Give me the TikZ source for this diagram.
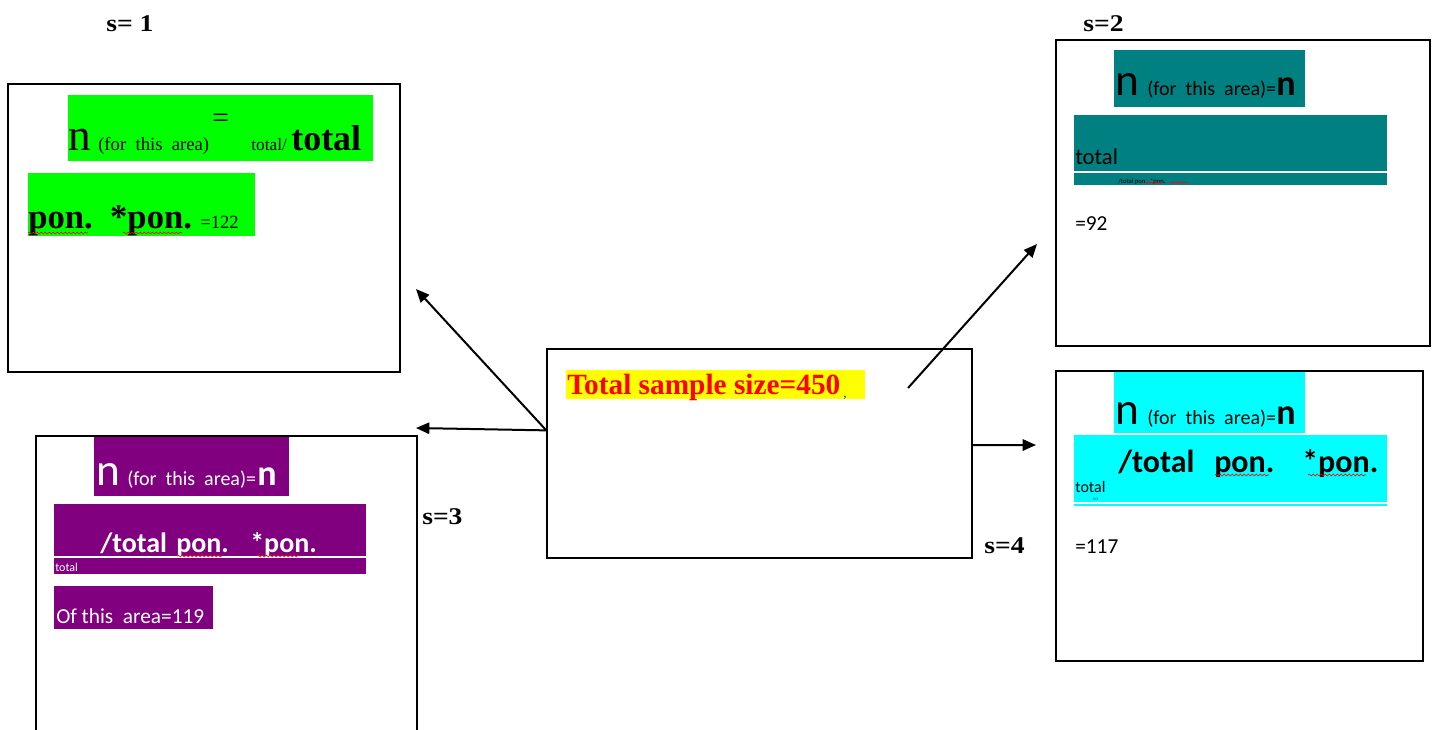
\documentclass[tikz,border=0pt]{standalone}
\usepackage{fontspec}
\setmainfont{Liberation Serif}
\newfontfamily\calib{Carlito}
\usetikzlibrary{arrows.meta,fit,calc,decorations.pathmorphing}
\newcommand\fs[1]{\fontsize{#1}{#1}\selectfont}
\definecolor{cgreen}{HTML}{00FF00}
\definecolor{cteal}{HTML}{008080}
\definecolor{ccyan}{HTML}{00FFFF}
\definecolor{cpurple}{HTML}{800080}
\definecolor{cyellow}{HTML}{FFFF00}
\definecolor{cred}{HTML}{FF0000}
\begin{document}
\begin{tikzpicture}[x=0.75pt,y=-0.75pt,
  box/.style={draw=black,line width=1pt,inner sep=0pt,fill=none},
  txt/.style={inner sep=0pt,anchor=base west},
  arr/.style={line width=1.5pt,-{Triangle[length=10pt,width=8.5pt]}},
  wavy/.style={cred,line width=0.5pt,decorate,decoration={snake,amplitude=0.7pt,segment length=3pt}},
  lab/.style={inner sep=0pt,anchor=base west,font=\bfseries\fs{18}}]
\useasboundingbox (0,0) rectangle (1433,729);

% ---------- labels
\node[lab] (l1) at (106,31) {\scalebox{1.15}[1]{s= 1}};
\node[lab] (l2) at (1083,31) {\scalebox{1.15}[1]{s=2}};
\node[lab] (l3) at (422,524) {\scalebox{1.15}[1]{s=3}};
\node[lab] (l4) at (984,553) {\scalebox{1.15}[1]{s=4}};

% ---------- box 1 (green)
\fill[cgreen] (68,95) rectangle (373,161);
\fill[cgreen] (28,173) rectangle (255,236);
\node[box,fit={(8,84) (400,372)}] (b1) {};
\node[txt] (b1n) at (68,150) {\fs{34}n};
\node[txt] (b1f) at (98,150) {\fs{14}(for\ \ this\ \ area)};
\node[txt] (b1e) at (212,127) {\fs{22}=};
\node[txt] (b1t) at (251,150) {\fs{13}total/};
\node[txt] (b1T) at (291,150) {\bfseries\fs{27}total};
\node[txt] (b1p) at (28,228) {\bfseries\fs{26}pon.\ \ *pon.};
\node[txt] (b1v) at (200,228) {\fs{14}=122};
\draw[wavy] (28,233) -- (88,233);
\draw[wavy] (123,233) -- (182,233);

% ---------- box 2 (teal)
\fill[cteal] (1114,50) rectangle (1305,107);
\fill[cteal] (1074,115) rectangle (1387,171);
\fill[cteal] (1074,173) rectangle (1387,185);
\node[box,fit={(1056,40) (1430,346)}] (b2) {};
\node[txt] (b2n) at (1115,95) {\calib\fs{34}n};
\node[txt] (b2f) at (1147,95) {\calib\fs{15}(for\ \ this\ \ area)=};
\node[txt] (b2m) at (1276,95) {\calib\bfseries\fs{27}n};
\node[txt] (b2t) at (1075,164) {\calib\fs{17}total};
\node[txt] (b2s) at (1118,183) {\calib\fs{5}/total pon.\ \ *pon.};
\draw[wavy,line width=0.4pt,decoration={snake,amplitude=0.5pt,segment length=2pt}] (1145,182.5) -- (1162,182.5);
\draw[wavy,line width=0.4pt,decoration={snake,amplitude=0.5pt,segment length=2pt}] (1170,182.5) -- (1187,182.5);
\node[txt] (b2v) at (1075,230) {\calib\fs{16}=92};

% ---------- box 4 (cyan)
\fill[ccyan] (1114,371) rectangle (1305,433);
\fill[ccyan] (1074,435) rectangle (1387,502);
\fill[ccyan] (1074,504) rectangle (1387,506);
\node[box,fit={(1056,371) (1423,661)}] (b4) {};
\node[txt] (b4n) at (1115,424) {\calib\fs{34}n};
\node[txt] (b4f) at (1147,424) {\calib\fs{15}(for\ \ this\ \ area)=};
\node[txt] (b4m) at (1276,424) {\calib\bfseries\fs{27}n};
\node[txt] (b4a) at (1118,472) {\calib\bfseries\fs{24}/total};
\node[txt] (b4b) at (1214,472) {\calib\bfseries\fs{24}pon.};
\node[txt] (b4c) at (1302,472) {\calib\bfseries\fs{24}*pon.};
\draw[wavy] (1215,475) -- (1269,475);
\draw[wavy] (1308,475) -- (1366,475);
\node[txt] (b4t) at (1075,492) {\calib\fs{12}total};
\node[txt] (b4i) at (1093,500) {\calib\fs{3}i=1};
\node[txt] (b4v) at (1075,553) {\calib\fs{16}=117};

% ---------- box 3 (purple)
\fill[cpurple] (94,437) rectangle (289,496);
\fill[cpurple] (54,504) rectangle (366,574);
\draw[white,line width=1pt] (54,557) -- (366,557);
\fill[cpurple] (54,586) rectangle (213,629);
\node[box,fit={(36,436) (417,732)}] (b3) {};
\node[txt,white] (b3n) at (96,485) {\calib\fs{34}n};
\node[txt,white] (b3f) at (127,485) {\calib\fs{15}(for\ \ this\ \ area)=};
\node[txt,white] (b3m) at (257,485) {\calib\bfseries\fs{27}n};
\node[txt,white] (b3a) at (100,552) {\calib\bfseries\fs{21}/total};
\node[txt,white] (b3b) at (176,552) {\calib\bfseries\fs{21}pon.};
\node[txt,white] (b3c) at (250,552) {\calib\bfseries\fs{21}*pon.};
\draw[wavy] (177,556) -- (222,556);
\draw[wavy] (257,556) -- (300,556);
\node[txt,white] (b3t) at (55,571) {\calib\fs{9}total};
\node[txt,white] (b3v) at (56,623) {\calib\fs{16}Of this\ \ area=119};

% ---------- centre box
\fill[cyellow] (566,370) rectangle (865,399);
\node[box,fit={(547,349) (972,558)}] (c) {};
\node[txt,text=cred] (ct) at (567,394) {\bfseries\fs{22}Total sample\ size=450};
\node[txt,text=black!70!green] (cc) at (843,397) {\fs{10},};

% ---------- arrows
\coordinate (o1) at ($(c.north west)!0.39!(c.south west)$);
\coordinate (o3) at (908,388);
\coordinate (o4) at ($(c.north east)!0.46!(c.south east)$);
\coordinate (a1) at (416,289);
\coordinate (a2) at (416,428);
\coordinate (a3) at (1037,244);
\coordinate (a4) at (1036,445);
\draw[arr] (o1) -- (a1);
\draw[arr] (o1) -- (a2);
\draw[arr] (o3) -- (a3);
\draw[arr] (o4) -- (a4);
\end{tikzpicture}
\end{document}
